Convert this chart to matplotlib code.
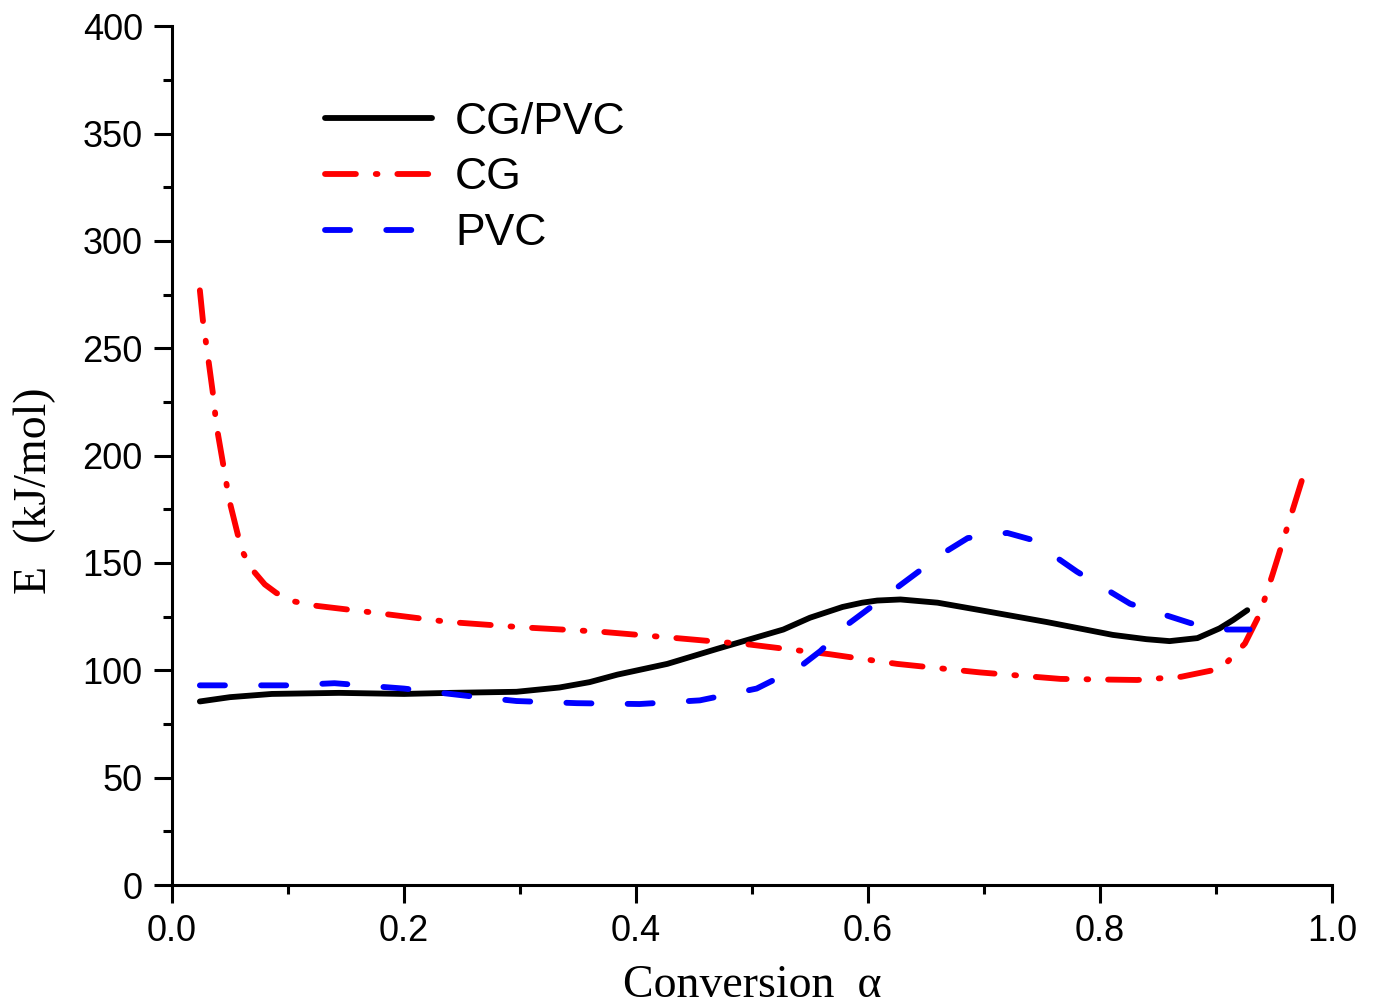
import numpy as np
import matplotlib
matplotlib.use('Agg')
import matplotlib.pyplot as plt
from matplotlib.ticker import MultipleLocator

# activation energy vs conversion
a_blend = [0.024, 0.05, 0.086, 0.144, 0.20, 0.24, 0.297, 0.334, 0.36, 0.384, 0.427, 0.47,
           0.527, 0.55, 0.578, 0.595, 0.608, 0.628, 0.66, 0.697, 0.754, 0.811, 0.84,
           0.86, 0.884, 0.903, 0.915, 0.927]
E_blend = [85.5, 87.5, 89, 89.5, 89, 89.5, 90, 92, 94.5, 98, 103, 110,
           119, 124.5, 129.5, 131.5, 132.5, 133, 131.5, 128, 122.5, 116.5, 114.5,
           113.6, 115, 119.5, 123.5, 128]

a_cg = [0.024, 0.027, 0.030, 0.036, 0.038, 0.046, 0.049, 0.060, 0.069, 0.080, 0.09,
        0.106, 0.125, 0.172, 0.239, 0.303, 0.369, 0.435, 0.498, 0.567, 0.625, 0.697,
        0.766, 0.832, 0.870, 0.897, 0.910, 0.925, 0.938, 0.949, 0.964, 0.979]
E_cg = [277, 261, 250, 226, 215, 190, 180, 156, 147, 140, 136,
        132, 130, 127, 122.5, 120, 118, 115, 112, 107.5, 103, 99,
        96, 95.5, 97, 100, 104, 112.5, 126.5, 145, 171, 197]

a_pvc = [0.024, 0.10, 0.14, 0.20, 0.256, 0.297, 0.349, 0.403, 0.455, 0.504, 0.541,
         0.559, 0.584, 0.62, 0.665, 0.686, 0.72, 0.74, 0.78, 0.826, 0.878, 0.906, 0.929]
E_pvc = [93, 93, 94, 91.5, 88, 85.7, 84.7, 84.3, 86, 91.5, 101.5,
         109, 122, 136.5, 154.6, 161.6, 164, 161, 146, 131, 122, 119, 119]

labels = ['CG/PVC', 'CG', 'PVC']

fig = plt.figure(figsize=(13.74, 10.08), dpi=100)
ax = fig.add_axes([0.1252, 0.122, 0.8442, 0.852])

lw = 4.2
ax.plot(a_blend, E_blend, color='black', lw=lw, solid_capstyle='round',
        solid_joinstyle='round', label=labels[0])
ax.plot(a_cg, E_cg, color='#ff0000', lw=lw, dashes=(5.3, 3.4, 0.3, 3.4),
        dash_capstyle='round', label=labels[1])
ax.plot(a_pvc, E_pvc, color='#0000ff', lw=lw, dashes=(4.3, 6.2),
        dash_capstyle='round', label=labels[2])

ax.set_xlim(0, 1.0)
ax.set_ylim(0, 400)
ax.xaxis.set_minor_locator(MultipleLocator(0.1))
ax.yaxis.set_major_locator(MultipleLocator(50))
ax.yaxis.set_minor_locator(MultipleLocator(25))
ax.set_xticks(np.arange(0, 1.01, 0.2))
ax.set_xticklabels(['%.1f' % v for v in np.arange(0, 1.01, 0.2)])

for s in ['top', 'right']:
    ax.spines[s].set_visible(False)
for s in ['left', 'bottom']:
    ax.spines[s].set_linewidth(2.2)

ax.tick_params(which='major', direction='out', length=13, width=2.2, pad=8,
               labelsize=26)
ax.tick_params(which='minor', direction='out', length=6.5, width=2.2)
for t in ax.get_xticklabels() + ax.get_yticklabels():
    t.set_family('Liberation Sans')

ax.set_xlabel('Conversion  \u03b1', family='Liberation Serif', fontsize=33, labelpad=11)
ax.set_ylabel('E  (kJ/mol)', family='Liberation Serif', fontsize=33)
ax.yaxis.set_label_coords(-0.10, 0.459)

leg = ax.legend(loc='upper left', bbox_to_anchor=(0.132, 0.912), frameon=False,
                borderpad=0, borderaxespad=0, handlelength=2.4, handletextpad=0.52,
                labelspacing=0.33, prop={'family': 'Liberation Sans', 'size': 32})

fig.savefig('out.png', dpi=100)
